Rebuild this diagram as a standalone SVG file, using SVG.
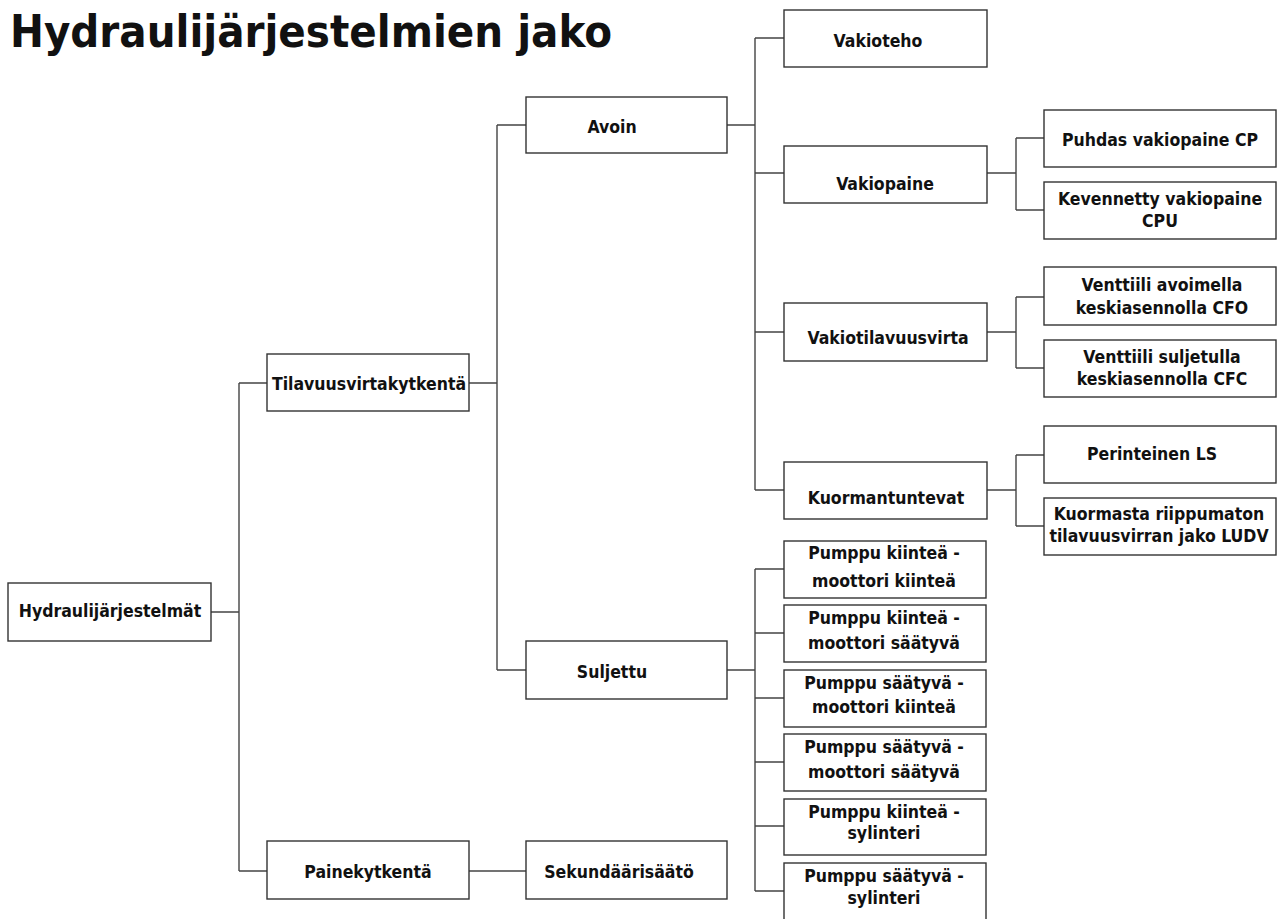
<svg xmlns="http://www.w3.org/2000/svg" width="1277" height="919" viewBox="0 0 1277 919">
<style>
.box{fill:#fff;stroke:#333;stroke-width:1.4}
.lbl{font-family:"DejaVu Sans Condensed","DejaVu Sans",sans-serif;font-weight:bold;font-size:17.5px;fill:#111;text-anchor:middle}
.title{font-family:"DejaVu Sans Condensed","DejaVu Sans",sans-serif;font-weight:bold;font-size:44px;fill:#111}
.con{fill:none;stroke:#444;stroke-width:1.4}
</style>
<rect width="1277" height="919" fill="#fff"/>
<text class="title" x="10" y="47" textLength="602" lengthAdjust="spacingAndGlyphs">Hydraulijärjestelmien jako</text>
<g id="connectors" class="con">
<path d="M211,612H239M239,383V871M239,383H267M239,871H267"/>
<path d="M469,383H497M497,125V670M497,125H526M497,670H526"/>
<path d="M469,871H526"/>
<path d="M727,125H755M755,38V490M755,38H784M755,173H784M755,332H784M755,490H784"/>
<path d="M727,670H755M755,569V891M755,569H784M755,633H784M755,698H784M755,762H784M755,826H784M755,891H784"/>
<path d="M987,173H1016M1016,138V210M1016,138H1044M1016,210H1044"/>
<path d="M987,332H1016M1016,297V368M1016,297H1044M1016,368H1044"/>
<path d="M987,490H1016M1016,455V526M1016,455H1044M1016,526H1044"/>
</g>
<g id="n-hydraulijarjestelmat"><rect class="box" x="8" y="583" width="203" height="58"/><text class="lbl" x="110" y="617">Hydraulijärjestelmät</text></g>
<g id="n-tilavuusvirtakytkenta"><rect class="box" x="267" y="354" width="202" height="57"/><text class="lbl" x="369" y="390">Tilavuusvirtakytkentä</text></g>
<g id="n-painekytkenta"><rect class="box" x="267" y="841" width="202" height="58"/><text class="lbl" x="368" y="878">Painekytkentä</text></g>
<g id="n-avoin"><rect class="box" x="526" y="97" width="201" height="56"/><text class="lbl" x="612" y="133">Avoin</text></g>
<g id="n-suljettu"><rect class="box" x="526" y="641" width="201" height="58"/><text class="lbl" x="612" y="678">Suljettu</text></g>
<g id="n-sekundaarisaato"><rect class="box" x="526" y="841" width="201" height="58"/><text class="lbl" x="619" y="878">Sekundäärisäätö</text></g>
<g id="n-vakioteho"><rect class="box" x="784" y="10" width="203" height="57"/><text class="lbl" x="878" y="47">Vakioteho</text></g>
<g id="n-vakiopaine"><rect class="box" x="784" y="146" width="203" height="57"/><text class="lbl" x="885" y="190">Vakiopaine</text></g>
<g id="n-vakiotilavuusvirta"><rect class="box" x="784" y="303" width="203" height="58"/><text class="lbl" x="888" y="344">Vakiotilavuusvirta</text></g>
<g id="n-kuormantuntevat"><rect class="box" x="784" y="462" width="203" height="57"/><text class="lbl" x="886" y="504">Kuormantuntevat</text></g>
<g id="n-puhdas"><rect class="box" x="1044" y="110" width="232" height="57"/><text class="lbl" x="1160" y="146">Puhdas vakiopaine CP</text></g>
<g id="n-kevennetty"><rect class="box" x="1044" y="182" width="232" height="57"/><text class="lbl" x="1160" y="205">Kevennetty vakiopaine</text><text class="lbl" x="1160" y="227">CPU</text></g>
<g id="n-cfo"><rect class="box" x="1044" y="267" width="232" height="58"/><text class="lbl" x="1162" y="291">Venttiili avoimella</text><text class="lbl" x="1162" y="314">keskiasennolla CFO</text></g>
<g id="n-cfc"><rect class="box" x="1044" y="340" width="232" height="57"/><text class="lbl" x="1162" y="363">Venttiili suljetulla</text><text class="lbl" x="1162" y="385">keskiasennolla CFC</text></g>
<g id="n-ls"><rect class="box" x="1044" y="426" width="232" height="57"/><text class="lbl" x="1152" y="460">Perinteinen LS</text></g>
<g id="n-ludv"><rect class="box" x="1044" y="498" width="232" height="57"/><text class="lbl" x="1159" y="520">Kuormasta riippumaton</text><text class="lbl" x="1159" y="542">tilavuusvirran jako LUDV</text></g>
<g id="n-p1"><rect class="box" x="784" y="541" width="202" height="57"/><text class="lbl" x="884" y="559">Pumppu kiinteä -</text><text class="lbl" x="884" y="587">moottori kiinteä</text></g>
<g id="n-p2"><rect class="box" x="784" y="605" width="202" height="57"/><text class="lbl" x="884" y="624">Pumppu kiinteä -</text><text class="lbl" x="884" y="649">moottori säätyvä</text></g>
<g id="n-p3"><rect class="box" x="784" y="670" width="202" height="57"/><text class="lbl" x="884" y="689">Pumppu säätyvä -</text><text class="lbl" x="884" y="713">moottori kiinteä</text></g>
<g id="n-p4"><rect class="box" x="784" y="734" width="202" height="57"/><text class="lbl" x="884" y="753">Pumppu säätyvä -</text><text class="lbl" x="884" y="778">moottori säätyvä</text></g>
<g id="n-p5"><rect class="box" x="784" y="799" width="202" height="56"/><text class="lbl" x="884" y="818">Pumppu kiinteä -</text><text class="lbl" x="884" y="839">sylinteri</text></g>
<g id="n-p6"><rect class="box" x="784" y="863" width="202" height="58"/><text class="lbl" x="884" y="882">Pumppu säätyvä -</text><text class="lbl" x="884" y="904">sylinteri</text></g>
</svg>
